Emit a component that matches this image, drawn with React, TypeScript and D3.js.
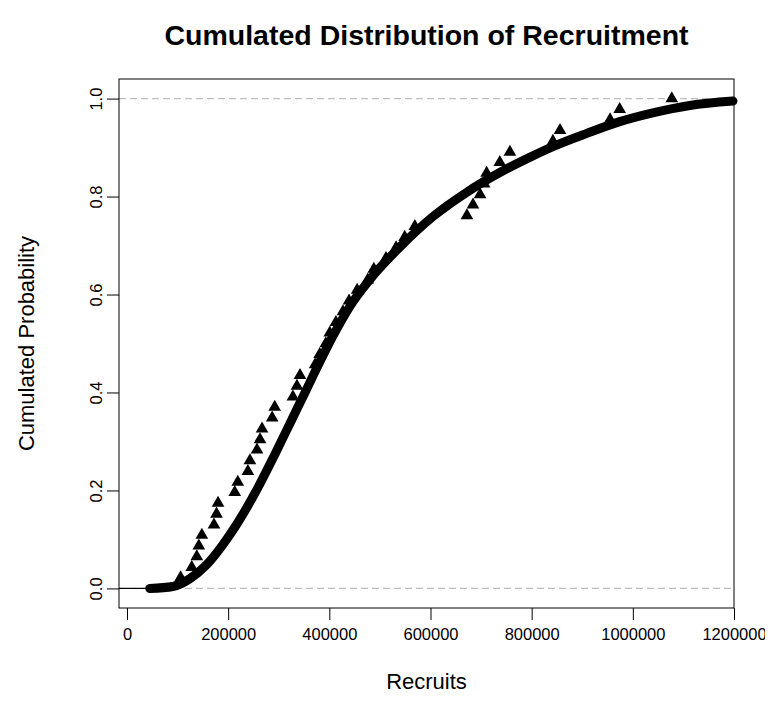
import { useEffect, useRef } from "react";
import * as d3 from "d3";

// fitted distribution curve
const fitRecruits = [45000, 91000, 124500, 158000, 190000, 217000, 257000, 292500, 326000, 352000, 371500, 407000, 446600, 486000, 539500, 604700, 672000, 737000, 796000, 842000, 909000, 974000, 1039500, 1112600, 1198000];
const fitProb = [0, 0.004, 0.02, 0.049, 0.09, 0.131, 0.202, 0.274, 0.345, 0.4, 0.442, 0.515, 0.585, 0.638, 0.697, 0.759, 0.809, 0.849, 0.88, 0.902, 0.929, 0.953, 0.971, 0.986, 0.995];

// observed recruits (triangles)
const obsRecruits = [106000, 128000, 138000, 142000, 148000, 172000, 177000, 180000, 213000, 219000, 239000, 243000, 257000, 263000, 267000, 287000, 292000, 328000, 336000, 342000, 372000, 381000, 393000, 401000, 413000, 427000, 439000, 455000, 476000, 488000, 512000, 532000, 549000, 569000, 672000, 684000, 698000, 706000, 711000, 737000, 757000, 842000, 856000, 955000, 974000, 1077000];
const obsProb = [0.022, 0.043, 0.065, 0.087, 0.109, 0.13, 0.152, 0.174, 0.196, 0.217, 0.239, 0.261, 0.283, 0.304, 0.326, 0.348, 0.37, 0.391, 0.413, 0.435, 0.457, 0.478, 0.5, 0.522, 0.543, 0.565, 0.587, 0.609, 0.63, 0.652, 0.674, 0.696, 0.717, 0.739, 0.761, 0.783, 0.804, 0.826, 0.848, 0.87, 0.891, 0.913, 0.935, 0.957, 0.978, 1.0];

const xTicks = [0, 200000, 400000, 600000, 800000, 1000000, 1200000];
const yTicks = [0, 0.2, 0.4, 0.6, 0.8, 1.0];
const refLines = [0, 1];

export default function App() {
  const ref = useRef<SVGSVGElement>(null);

  useEffect(() => {
    const width = 773;
    const height = 725;
    const left = 119, right = 734, top = 79, bottom = 608;
    const font = "'Liberation Sans', Arial, sans-serif";

    const svg = d3.select(ref.current);
    svg.selectAll("*").remove();

    const x = d3.scaleLinear().domain([-15800, 1200000]).range([left, right]);
    const y = d3.scaleLinear().domain([-0.04, 1.04]).range([bottom, top]);

    // title
    svg.append("text")
      .attr("x", (left + right) / 2)
      .attr("y", 45)
      .attr("text-anchor", "middle")
      .attr("font-family", font)
      .attr("font-weight", "bold")
      .attr("font-size", 28.5)
      .text("Cumulated Distribution of Recruitment");

    // reference lines at 0 and 1
    svg.append("g")
      .selectAll("line")
      .data(refLines)
      .join("line")
      .attr("x1", left)
      .attr("x2", right)
      .attr("y1", (d) => y(d))
      .attr("y2", (d) => y(d))
      .attr("stroke", "#bdbdbd")
      .attr("stroke-width", 1.2)
      .attr("stroke-dasharray", "7,4");

    // thin segment before the curve starts
    svg.append("line")
      .attr("x1", left)
      .attr("x2", x(fitRecruits[0]))
      .attr("y1", y(0))
      .attr("y2", y(0))
      .attr("stroke", "black")
      .attr("stroke-width", 1.2);

    // fitted curve
    const line = d3.line<number>()
      .x((d, i) => x(fitRecruits[i]))
      .y((d) => y(d))
      .curve(d3.curveMonotoneX);
    svg.append("path")
      .attr("d", line(fitProb))
      .attr("fill", "none")
      .attr("stroke", "black")
      .attr("stroke-width", 9)
      .attr("stroke-linecap", "round")
      .attr("stroke-linejoin", "round");

    // observed points
    const tri = d3.symbol().type(d3.symbolTriangle).size(70);
    svg.append("g")
      .selectAll("path")
      .data(obsProb)
      .join("path")
      .attr("d", tri)
      .attr("transform", (d, i) => `translate(${x(obsRecruits[i])},${y(d)})`)
      .attr("fill", "black");

    // box
    svg.append("rect")
      .attr("x", left)
      .attr("y", top)
      .attr("width", right - left)
      .attr("height", bottom - top)
      .attr("fill", "none")
      .attr("stroke", "black")
      .attr("stroke-width", 1);

    // x axis
    const xAxis = svg.append("g")
      .attr("transform", `translate(0,${bottom})`)
      .call(d3.axisBottom(x).tickValues(xTicks).tickFormat(d3.format("d")).tickSize(12).tickSizeOuter(0).tickPadding(8));
    xAxis.select(".domain").remove();
    xAxis.selectAll("text").attr("font-family", font).attr("font-size", 16.5).attr("fill", "black");

    // y axis
    const yAxis = svg.append("g")
      .attr("transform", `translate(${left},0)`)
      .call(d3.axisLeft(y).tickValues(yTicks).tickFormat(d3.format(".1f")).tickSize(12).tickSizeOuter(0));
    yAxis.select(".domain").remove();
    yAxis.selectAll("text")
      .attr("font-family", font)
      .attr("font-size", 16.5)
      .attr("fill", "black")
      .attr("x", null)
      .attr("dy", null)
      .attr("text-anchor", "middle")
      .attr("transform", "translate(-17,0) rotate(-90)");

    // axis titles
    svg.append("text")
      .attr("x", (left + right) / 2)
      .attr("y", 689)
      .attr("text-anchor", "middle")
      .attr("font-family", font)
      .attr("font-size", 22)
      .text("Recruits");

    svg.append("text")
      .attr("transform", `translate(34,${(top + bottom) / 2}) rotate(-90)`)
      .attr("text-anchor", "middle")
      .attr("font-family", font)
      .attr("font-size", 22)
      .text("Cumulated Probability");

    svg.attr("width", width).attr("height", height);
  }, []);

  return (
    <div style={{ margin: -8 }}>
      <svg ref={ref} width={773} height={725} style={{ display: "block", background: "white" }} />
    </div>
  );
}
